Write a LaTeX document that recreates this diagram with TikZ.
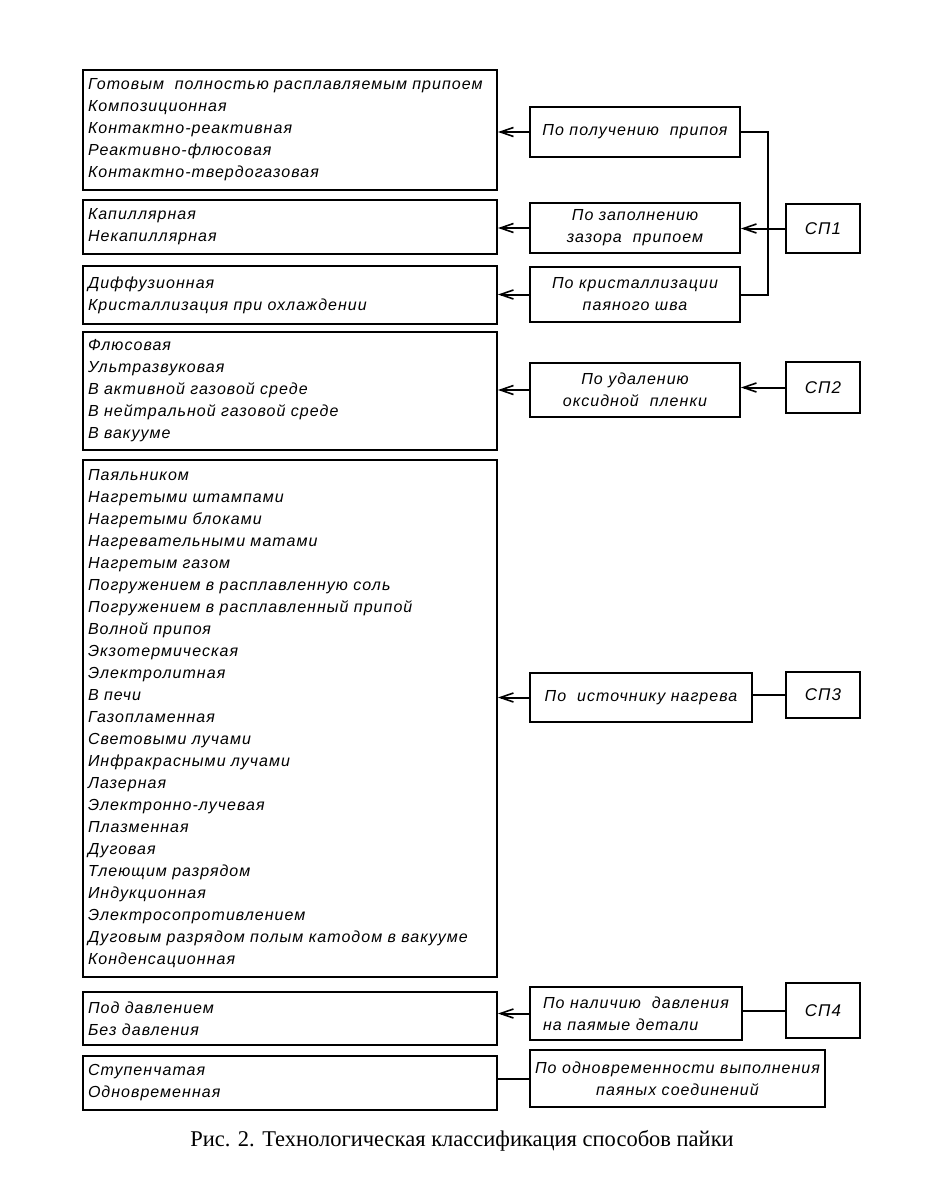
\documentclass[tikz,border=0pt]{standalone}
\usepackage{fontspec}
\setmainfont{Liberation Serif}
\newfontfamily\gost[LetterSpace=6.5]{Liberation Sans}
\usetikzlibrary{arrows.meta, positioning, calc}

\begin{document}
\begin{tikzpicture}[
  x=1pt, y=-1pt,
  every node/.style={font=\gost\itshape\fontsize{16}{22}\selectfont},
  group/.style={rectangle, draw=black, line width=2pt, minimum width=414pt, text width=404pt, inner xsep=5pt, inner ysep=0pt, align=left},
  method/.style={rectangle, draw=black, line width=2pt, inner sep=0pt, align=center},
  code/.style={rectangle, draw=black, line width=2pt, minimum width=74pt, inner sep=0pt, font=\gost\itshape\fontsize{17}{22}\selectfont},
  arrow/.style={line width=2pt, -{Straight Barb[length=13pt,width=9pt,line width=1.6pt]}},
  link/.style={line width=2pt}
]
\useasboundingbox (0,0) rectangle (933,1185);

% Groups of methods (left column)
\node[group, minimum height=120pt] (grpA) at (290,130) {Готовым\ \ полностью расплавляемым припоем\\ Композиционная\\ Контактно-реактивная\\ Реактивно-флюсовая\\ Контактно-твердогазовая};
\node[group, minimum height=54pt] (grpB) at (290,227) {Капиллярная\\ Некапиллярная};
\node[group, minimum height=58pt] (grpC) at (290,295) {Диффузионная\\ Кристаллизация при охлаждении};
\node[group, minimum height=118pt] (grpD) at (290,391) {Флюсовая\\ Ультразвуковая\\ В активной газовой среде\\ В нейтральной газовой среде\\ В вакууме};
\node[group, minimum height=517pt] (grpE) at (290,718.5) {Паяльником\\ Нагретыми штампами\\ Нагретыми блоками\\ Нагревательными матами\\ Нагретым газом\\ Погружением в расплавленную соль\\ Погружением в расплавленный припой\\ Волной припоя\\ Экзотермическая\\ Электролитная\\ В печи\\ Газопламенная\\ Световыми лучами\\ Инфракрасными лучами\\ Лазерная\\ Электронно-лучевая\\ Плазменная\\ Дуговая\\ Тлеющим разрядом\\ Индукционная\\ Электросопротивлением\\ Дуговым разрядом полым катодом в вакууме\\ Конденсационная};
\node[group, minimum height=53pt] (grpF) at (290,1018.5) {Под давлением\\ Без давления};
\node[group, minimum height=54pt] (grpG) at (290,1083) {Ступенчатая\\ Одновременная};

% Classification features (middle column)
\node[method, minimum width=210pt, minimum height=50pt] (featA) at (635,132) {По получению\ \ припоя};
\node[method, minimum width=210pt, minimum height=50pt] (featB) at (635,228) {По заполнению\\ зазора\ \ припоем};
\node[method, minimum width=210pt, minimum height=55pt] (featC) at (635,294.5) {По кристаллизации\\ паяного шва};
\node[method, minimum width=210pt, minimum height=54pt] (featD) at (635,390) {По удалению\\ оксидной\ \ пленки};
\node[method, minimum width=222pt, minimum height=49pt] (featE) at (641,697.5) {По\ \ источнику нагрева};
\node[method, minimum width=212pt, minimum height=53pt, align=left] (featF) at (636,1013.5) {По наличию\ \ давления\\ на паямые детали};
\node[method, minimum width=295pt, minimum height=57pt] (featG) at (677.5,1078.5) {По одновременности выполнения\\ паяных соединений};

% Codes (right column)
\node[code, minimum height=49pt] (sp1) at (823,228.5) {СП1};
\node[code, minimum height=51pt] (sp2) at (823,387.5) {СП2};
\node[code, minimum height=46pt] (sp3) at (823,695) {СП3};
\node[code, minimum height=55pt] (sp4) at (823,1010.5) {СП4};

% Arrows to the groups
\foreach \f/\g in {featA/grpA, featB/grpB, featC/grpC, featD/grpD, featE/grpE, featF/grpF}
  \draw[arrow] (\f.west) -- (\f.west -| \g.east);
\draw[link] (featG.west) -- (featG.west -| grpG.east);

% Codes to features
\coordinate (bus) at (768,200);
\draw[link] (featA.east) -- (featA.east -| bus) -- (featC.east -| bus) -- (featC.east);
\draw[arrow] (sp1.west) -- (sp1.west -| featB.east);
\draw[arrow] (sp2.west) -- (sp2.west -| featD.east);
\draw[link] (sp3.west) -- (sp3.west -| featE.east);
\draw[link] (sp4.west) -- (sp4.west -| featF.east);

% Caption
\node[font=\rmfamily\fontsize{22.5}{26}\selectfont] (caption) at (462,1141) {Рис. 2. Технологическая классификация способов пайки};

\end{tikzpicture}
\end{document}
